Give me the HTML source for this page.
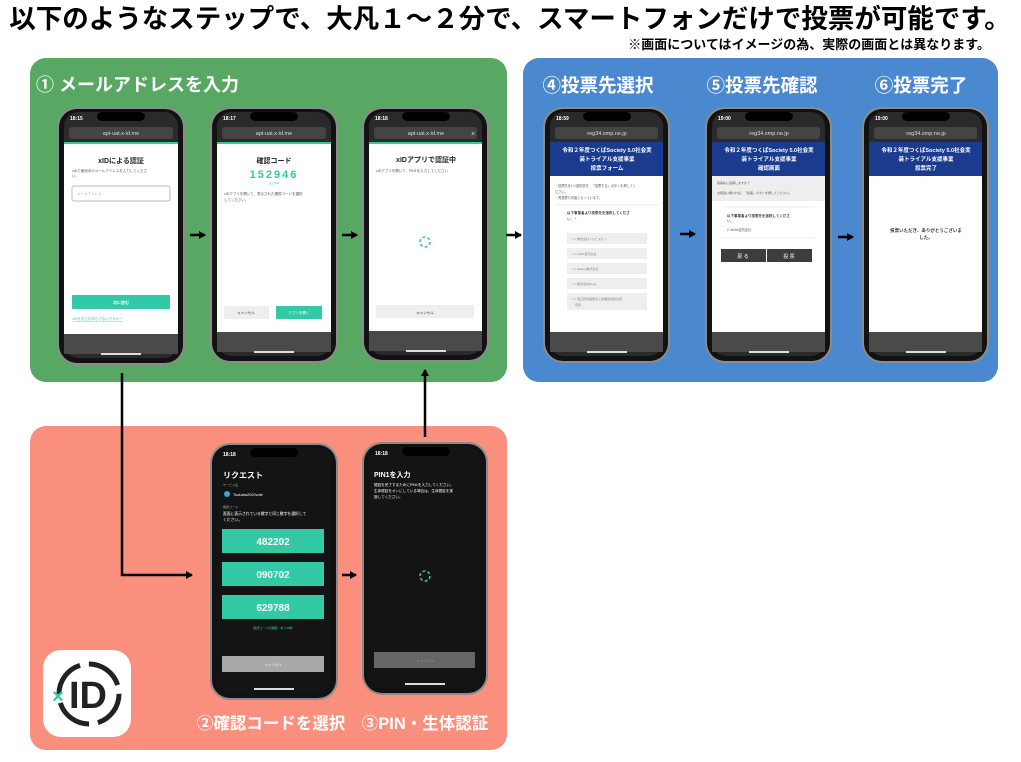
<!DOCTYPE html>
<html><head><meta charset="utf-8"><style>
body{margin:0;background:#fff;}
svg text{font-family:"Liberation Sans","Noto Sans CJK JP",sans-serif;}
</style></head><body>
<svg width="1021" height="757" viewBox="0 0 1021 757" xmlns="http://www.w3.org/2000/svg">
<defs>
<marker id="ah" markerWidth="8" markerHeight="8" refX="6" refY="4" orient="auto" markerUnits="userSpaceOnUse"><path d="M0,0 L7,4 L0,8 Z" fill="#000"/></marker>
</defs>
<text x="510" y="28" text-anchor="middle" font-size="26.5" font-weight="bold" fill="#000">以下のようなステップで、大凡１〜２分で、スマートフォンだけで投票が可能です。</text>
<text x="990" y="49" text-anchor="end" font-size="13" font-weight="bold" fill="#000">※画面についてはイメージの為、実際の画面とは異なります。</text>

<rect x="30" y="58" width="477" height="324" rx="16" fill="#58a762"/>
<rect x="523" y="58" width="475" height="324" rx="16" fill="#4a88d0"/>
<rect x="30" y="426" width="477" height="324" rx="16" fill="#f98f7c"/>

<text x="36" y="91" font-size="18" font-weight="bold" fill="#fff">① メールアドレスを入力</text>
<text x="598" y="92" text-anchor="middle" font-size="18.5" font-weight="bold" fill="#fff">④投票先選択</text>
<text x="762" y="92" text-anchor="middle" font-size="18.5" font-weight="bold" fill="#fff">⑤投票先確認</text>
<text x="921" y="92" text-anchor="middle" font-size="18.5" font-weight="bold" fill="#fff">⑥投票完了</text>
<text x="271" y="729" text-anchor="middle" font-size="16.5" font-weight="bold" fill="#fff">②確認コードを選択</text>
<text x="425" y="729" text-anchor="middle" font-size="16.5" font-weight="bold" fill="#fff">③PIN・生体認証</text>

<!-- xID logo -->
<rect x="43" y="650" width="88" height="87" rx="18" fill="#fff"/>
<circle cx="89" cy="694" r="30" fill="none" stroke="#222" stroke-width="5" stroke-dasharray="38 9"/>
<text x="88" y="708" text-anchor="middle" font-size="38" font-weight="bold" fill="#222">ID</text>
<text x="58" y="703" text-anchor="middle" font-size="20" font-weight="bold" fill="#2ecba3">×</text>

<!-- arrows -->
<g stroke="#000" stroke-width="2.5" fill="none">
<line x1="190" y1="235" x2="205" y2="235" marker-end="url(#ah)"/>
<line x1="342" y1="235" x2="357" y2="235" marker-end="url(#ah)"/>
<line x1="506" y1="235" x2="521" y2="235" marker-end="url(#ah)"/>
<line x1="680" y1="234" x2="695" y2="234" marker-end="url(#ah)"/>
<line x1="838" y1="237" x2="853" y2="237" marker-end="url(#ah)"/>
<polyline points="122,373 122,575 192,575" marker-end="url(#ah)"/>
<line x1="342" y1="575" x2="356" y2="575" marker-end="url(#ah)"/>
<line x1="425" y1="437" x2="425" y2="370" marker-end="url(#ah)"/>
</g>

<g transform="translate(57,107)">
<rect x="0" y="0" width="128" height="258" rx="20" fill="#8b8b8b"/>
<rect x="2" y="2" width="124" height="254" rx="18" fill="#121212"/>
<rect x="7" y="5" width="114" height="246" rx="14" fill="#2a2a2a"/>
<rect x="40" y="5" width="48" height="9" rx="5" fill="#000"/>
<text x="13" y="13" font-size="5" fill="#fff" font-weight="bold">18:15</text>
<rect x="12" y="20" width="104" height="12" rx="3" fill="#444"/>
<text x="64" y="28" text-anchor="middle" font-size="5.5" fill="#ddd">api-uat.x-id.me</text>
<rect x="7" y="35" width="114" height="2" fill="#2ecba3"/>
<rect x="7" y="37" width="114" height="190" fill="#fff"/>
<rect x="7" y="227" width="114" height="20" fill="#4a4a4a"/>
<rect x="44" y="246" width="40" height="2" fill="#ddd"/>
<text x="64" y="56" text-anchor="middle" font-size="7" font-weight="bold" fill="#222">xIDによる認証</text>
<text x="15" y="65" font-size="3.5" fill="#555">xIDで使用中のメールアドレスを入力してくださ</text>
<text x="15" y="70" font-size="3.5" fill="#555">い。</text>
<rect x="15" y="79" width="98" height="15" rx="2" fill="#fff" stroke="#bbb"/>
<text x="20" y="88" font-size="3.5" fill="#aaa">メールアドレス</text>
<rect x="15" y="188" width="98" height="14" rx="1" fill="#33c9a5"/>
<text x="64" y="197" text-anchor="middle" font-size="4" fill="#fff" font-weight="bold">次に進む</text>
<text x="15" y="213" font-size="3.5" fill="#33c9a5" text-decoration="underline">xIDをまだお持ちでないですか？</text>
</g>

<g transform="translate(210,107)">
<rect x="0" y="0" width="128" height="256" rx="20" fill="#8b8b8b"/>
<rect x="2" y="2" width="124" height="252" rx="18" fill="#121212"/>
<rect x="7" y="5" width="114" height="244" rx="14" fill="#2a2a2a"/>
<rect x="40" y="5" width="48" height="9" rx="5" fill="#000"/>
<text x="13" y="13" font-size="5" fill="#fff" font-weight="bold">18:17</text>
<rect x="12" y="20" width="104" height="12" rx="3" fill="#444"/>
<text x="64" y="28" text-anchor="middle" font-size="5.5" fill="#ddd">api-uat.x-id.me</text>
<rect x="7" y="35" width="114" height="2" fill="#2ecba3"/>
<rect x="7" y="37" width="114" height="188" fill="#fff"/>
<rect x="7" y="225" width="114" height="20" fill="#4a4a4a"/>
<rect x="44" y="244" width="40" height="2" fill="#ddd"/>
<text x="64" y="56" text-anchor="middle" font-size="7" font-weight="bold" fill="#222">確認コード</text>
<text x="64" y="71" text-anchor="middle" font-size="11" font-weight="bold" fill="#2ecba3" letter-spacing="2">152946</text>
<text x="64" y="77" text-anchor="middle" font-size="2.5" fill="#2ecba3">あと5:00</text>
<text x="14" y="88" font-size="3.5" fill="#555">xIDアプリを開いて、表示された確認コードを選択</text>
<text x="14" y="94" font-size="3.5" fill="#555">してください。</text>
<rect x="14" y="199" width="45" height="13" fill="#eee"/>
<text x="36" y="207" text-anchor="middle" font-size="3.5" fill="#333">キャンセル</text>
<rect x="66" y="199" width="46" height="13" fill="#33c9a5"/>
<text x="89" y="207" text-anchor="middle" font-size="3.5" fill="#fff">アプリを開く</text>
</g>

<g transform="translate(362,107)">
<rect x="0" y="0" width="127" height="255" rx="20" fill="#8b8b8b"/>
<rect x="2" y="2" width="123" height="251" rx="18" fill="#121212"/>
<rect x="7" y="5" width="113" height="243" rx="14" fill="#2a2a2a"/>
<rect x="40" y="5" width="48" height="9" rx="5" fill="#000"/>
<text x="13" y="13" font-size="5" fill="#fff" font-weight="bold">18:18</text>
<rect x="12" y="20" width="103" height="12" rx="3" fill="#444"/>
<text x="64" y="28" text-anchor="middle" font-size="5.5" fill="#ddd">api-uat.x-id.me</text>
<text x="111" y="29" text-anchor="middle" font-size="7" fill="#ddd">×</text>
<rect x="7" y="35" width="113" height="2" fill="#2ecba3"/>
<rect x="7" y="37" width="113" height="187" fill="#fff"/>
<rect x="7" y="224" width="113" height="20" fill="#4a4a4a"/>
<rect x="44" y="243" width="40" height="2" fill="#ddd"/>
<text x="64" y="55" text-anchor="middle" font-size="7" font-weight="bold" fill="#222">xIDアプリで認証中</text>
<text x="14" y="65" font-size="3.5" fill="#555">xIDアプリを開いて、PIN1を入力してください</text>
<circle cx="63" cy="135" r="5" fill="none" stroke="#2ecba3" stroke-width="1.6" stroke-dasharray="3 2.2"/>
<rect x="14" y="198" width="98" height="13" fill="#eee"/>
<text x="63" y="207" text-anchor="middle" font-size="3.5" fill="#333">キャンセル</text>
</g>

<g transform="translate(543,107)">
<rect x="0" y="0" width="127" height="256" rx="20" fill="#8b8b8b"/>
<rect x="2" y="2" width="123" height="252" rx="18" fill="#121212"/>
<rect x="7" y="5" width="113" height="244" rx="14" fill="#2a2a2a"/>
<rect x="40" y="5" width="48" height="9" rx="5" fill="#000"/>
<text x="13" y="13" font-size="5" fill="#fff" font-weight="bold">18:59</text>
<rect x="12" y="20" width="103" height="12" rx="3" fill="#444"/>
<text x="64" y="28" text-anchor="middle" font-size="5.5" fill="#ddd">reg34.smp.ne.jp</text>
<rect x="7" y="35" width="113" height="34" fill="#1a3b8e"/>
<text x="64" y="45" text-anchor="middle" font-size="5.5" font-weight="bold" fill="#fff">令和２年度つくばSociety 5.0社会実</text>
<text x="64" y="54" text-anchor="middle" font-size="5.5" font-weight="bold" fill="#fff">装トライアル支援事業</text>
<text x="64" y="63" text-anchor="middle" font-size="5.5" font-weight="bold" fill="#fff">投票フォーム</text>
<rect x="7" y="69" width="113" height="156" fill="#fff"/>
<rect x="7" y="225" width="113" height="20" fill="#4a4a4a"/>
<rect x="44" y="244" width="40" height="2" fill="#ddd"/>
<text x="12" y="80" font-size="3.2" fill="#555">・投票先を1つ選択頂き、「投票する」ボタンを押してく</text>
<text x="12" y="86" font-size="3.2" fill="#555">ださい。</text>
<text x="12" y="92" font-size="3.2" fill="#555">・再投票も可能となっています。</text>
<line x1="12" y1="98" x2="116" y2="98" stroke="#ddd" stroke-width="0.6"/>
<text x="24" y="107" font-size="3.5" font-weight="bold" fill="#333">以下事業者より投票先を選択してくださ</text>
<text x="24" y="113" font-size="3.5" fill="#c00">い。 *</text>
<g fill="#eee"><rect x="24" y="126" width="80" height="11"/><rect x="24" y="141" width="80" height="11"/><rect x="24" y="156" width="80" height="11"/><rect x="24" y="171" width="80" height="11"/><rect x="24" y="186" width="80" height="17"/></g>
<g font-size="3" fill="#888"><text x="28" y="133">○ 1. 株式会社トルビズオン</text><text x="28" y="148">○ 2. Ambii合同会社</text><text x="28" y="163">○ 3. iRuuza株式会社</text><text x="28" y="178">○ 4. 株式会社Doog</text><text x="28" y="193">○ 5. 国立研究開発法人産業技術総合研</text><text x="32" y="199">究所</text></g>
</g>

<g transform="translate(705,107)">
<rect x="0" y="0" width="127" height="256" rx="20" fill="#8b8b8b"/>
<rect x="2" y="2" width="123" height="252" rx="18" fill="#121212"/>
<rect x="7" y="5" width="113" height="244" rx="14" fill="#2a2a2a"/>
<rect x="40" y="5" width="48" height="9" rx="5" fill="#000"/>
<text x="13" y="13" font-size="5" fill="#fff" font-weight="bold">19:00</text>
<rect x="12" y="20" width="103" height="12" rx="3" fill="#444"/>
<text x="64" y="28" text-anchor="middle" font-size="5.5" fill="#ddd">reg34.smp.ne.jp</text>
<rect x="7" y="35" width="113" height="34" fill="#1a3b8e"/>
<text x="64" y="45" text-anchor="middle" font-size="5.5" font-weight="bold" fill="#fff">令和２年度つくばSociety 5.0社会実</text>
<text x="64" y="54" text-anchor="middle" font-size="5.5" font-weight="bold" fill="#fff">装トライアル支援事業</text>
<text x="64" y="63" text-anchor="middle" font-size="5.5" font-weight="bold" fill="#fff">確認画面</text>
<rect x="7" y="69" width="113" height="156" fill="#fff"/>
<rect x="7" y="69" width="113" height="25" fill="#eee"/>
<text x="12" y="77" font-size="3" fill="#555">投票先に投票しますか？</text>
<text x="12" y="87" font-size="3" fill="#555">お間違い無ければ、「投票」ボタンを押してください。</text>
<line x1="17" y1="100" x2="110" y2="100" stroke="#ddd" stroke-width="0.6"/>
<text x="22" y="110" font-size="3.5" font-weight="bold" fill="#333">以下事業者より投票先を選択してくださ</text>
<text x="22" y="115" font-size="3.5" fill="#333">い。</text>
<text x="22" y="124" font-size="3.2" fill="#555">2. Ambii合同会社</text>
<line x1="17" y1="131" x2="110" y2="131" stroke="#ddd" stroke-width="0.6"/>
<rect x="16" y="142" width="45" height="13" fill="#3d3d3d"/>
<rect x="62" y="142" width="45" height="13" fill="#3d3d3d"/>
<text x="38" y="151" text-anchor="middle" font-size="5" fill="#fff">戻 る</text>
<text x="84" y="151" text-anchor="middle" font-size="5" fill="#fff">投 票</text>
<rect x="7" y="225" width="113" height="20" fill="#4a4a4a"/>
<rect x="44" y="244" width="40" height="2" fill="#ddd"/>
</g>

<g transform="translate(862,107)">
<rect x="0" y="0" width="127" height="256" rx="20" fill="#8b8b8b"/>
<rect x="2" y="2" width="123" height="252" rx="18" fill="#121212"/>
<rect x="7" y="5" width="113" height="244" rx="14" fill="#2a2a2a"/>
<rect x="40" y="5" width="48" height="9" rx="5" fill="#000"/>
<text x="13" y="13" font-size="5" fill="#fff" font-weight="bold">19:00</text>
<rect x="12" y="20" width="103" height="12" rx="3" fill="#444"/>
<text x="64" y="28" text-anchor="middle" font-size="5.5" fill="#ddd">reg34.smp.ne.jp</text>
<rect x="7" y="35" width="113" height="34" fill="#1a3b8e"/>
<text x="64" y="45" text-anchor="middle" font-size="5.5" font-weight="bold" fill="#fff">令和２年度つくばSociety 5.0社会実</text>
<text x="64" y="54" text-anchor="middle" font-size="5.5" font-weight="bold" fill="#fff">装トライアル支援事業</text>
<text x="64" y="63" text-anchor="middle" font-size="5.5" font-weight="bold" fill="#fff">投票完了</text>
<rect x="7" y="69" width="113" height="156" fill="#fff"/>
<text x="64" y="125" text-anchor="middle" font-size="4.5" font-weight="bold" fill="#333">投票いただき、ありがとうございま</text>
<text x="64" y="132" text-anchor="middle" font-size="4.5" font-weight="bold" fill="#333">した。</text>
<rect x="7" y="225" width="113" height="20" fill="#4a4a4a"/>
<rect x="44" y="244" width="40" height="2" fill="#ddd"/>
</g>

<g transform="translate(210,443)">
<rect x="0" y="0" width="128" height="257" rx="20" fill="#8b8b8b"/>
<rect x="2" y="2" width="124" height="253" rx="18" fill="#121212"/>
<rect x="7" y="5" width="114" height="245" rx="14" fill="#141414"/>
<rect x="40" y="5" width="48" height="9" rx="5" fill="#000"/>
<text x="13" y="13" font-size="5" fill="#fff" font-weight="bold">18:18</text>
<text x="13" y="35" font-size="8" font-weight="bold" fill="#fff">リクエスト</text>
<text x="13" y="43" font-size="3" fill="#aaa">サービス名</text>
<circle cx="17" cy="51" r="3" fill="#3aa7d8"/>
<text x="23" y="53" font-size="3.8" fill="#fff">Tsukuba2020vote</text>
<text x="13" y="65" font-size="3" fill="#aaa">確認コード</text>
<text x="13" y="72" font-size="3.8" fill="#fff">画面に表示されている数字と同じ数字を選択して</text>
<text x="13" y="78" font-size="3.8" fill="#fff">ください。</text>
<rect x="12" y="86" width="102" height="24" fill="#33c9a5"/>
<rect x="12" y="119" width="102" height="24" fill="#33c9a5"/>
<rect x="12" y="152" width="102" height="24" fill="#33c9a5"/>
<g font-size="10" font-weight="bold" fill="#fff" text-anchor="middle"><text x="63" y="102">482202</text><text x="63" y="135">090702</text><text x="63" y="168">629788</text></g>
<text x="63" y="186" text-anchor="middle" font-size="3" fill="#33c9a5">確認コードの期限：あと58秒</text>
<rect x="12" y="213" width="102" height="16" fill="#a9a9a9"/>
<text x="63" y="223" text-anchor="middle" font-size="3.5" fill="#eee">キャンセル</text>
<rect x="44" y="245" width="40" height="2" fill="#ddd"/>
</g>

<g transform="translate(362,442)">
<rect x="0" y="0" width="126" height="253" rx="20" fill="#8b8b8b"/>
<rect x="2" y="2" width="122" height="249" rx="18" fill="#121212"/>
<rect x="7" y="5" width="112" height="241" rx="14" fill="#141414"/>
<rect x="40" y="5" width="48" height="9" rx="5" fill="#000"/>
<text x="13" y="13" font-size="5" fill="#fff" font-weight="bold">18:18</text>
<text x="12" y="35" font-size="7" font-weight="bold" fill="#fff">PIN1を入力</text>
<text x="12" y="44" font-size="3.6" fill="#fff">認証を完了するためにPIN1を入力してください。</text>
<text x="12" y="50" font-size="3.6" fill="#fff">生体認証をオンにしている場合は、生体認証を実</text>
<text x="12" y="56" font-size="3.6" fill="#fff">施してください。</text>
<circle cx="63" cy="134" r="5" fill="none" stroke="#2ecba3" stroke-width="1.6" stroke-dasharray="3 2.2"/>
<rect x="12" y="210" width="101" height="16" fill="#666"/>
<text x="63" y="220" text-anchor="middle" font-size="3.5" fill="#999">キャンセル</text>
<rect x="43" y="241" width="40" height="2" fill="#ddd"/>
</g>
</svg>
</body></html>
